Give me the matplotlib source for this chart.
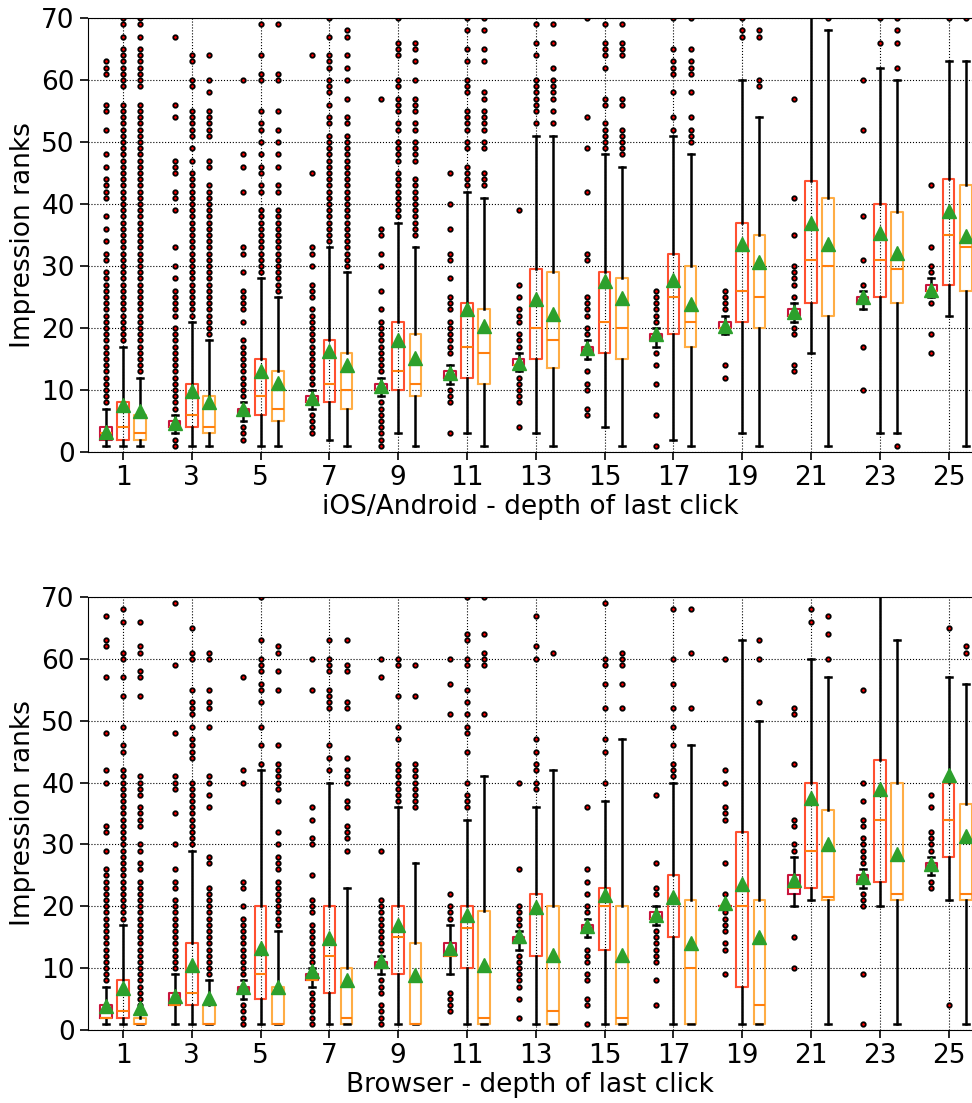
import numpy as np
import matplotlib
matplotlib.use("Agg")
import matplotlib.pyplot as plt

# groups = depth of last click (odd depths only)
depths = [1, 3, 5, 7, 9, 11, 13, 15, 17, 19, 21, 23, 25]

# rows: (whislo, q1, med, q3, whishi, mean)
# fliers: ints, (a, b) = every rank from a to b
top_a_stats = [(1, 2, 3, 4, 7, 3.3), (3, 4, 4, 5, 6, 4.7), (5, 6, 6, 7, 8, 7.0),
               (7, 8, 8, 9, 10, 8.7), (9, 10, 10, 11, 12, 10.6), (11, 12, 12, 13, 14, 12.8),
               (13, 14, 14, 15, 16, 14.4), (15, 16, 16, 17, 18, 16.8), (17, 18, 18, 19, 20, 19.0),
               (19, 20, 20, 21, 22, 20.3), (21, 22, 22, 23, 24, 22.5), (23, 24, 24, 25, 26, 25.0),
               (25, 26, 26, 27, 28, 26.2)]
top_a_fliers = [[(8, 29), 31, 32, 34, 36, 38, 41, 42, 43, 44, 46, 48, 52, 55, 56, 61, 62, 63],
                [1, 2, (7, 20), (22, 26), 28, 30, 33, 39, 41, 42, 45, 46, 47, 54, 56, 67],
                [2, 3, 4, (9, 18), 21, 23, 24, 25, 26, 29, 32, 33, 42, 46, 48, 60],
                [3, 4, 5, 6, (11, 23), 25, 26, 27, 30, 32, 33, 45, 64],
                [(1, 8), (13, 21), 23, 26, 30, 32, 35, 36, 57],
                [3, 8, 9, 10, (16, 21), 23, 24, 25, 28, 31, 32, 36, 40, 45],
                [4, 8, 9, 10, 11, 12, 17, 18, 19, 21, 22, 23, 25, 27, 39],
                [6, 7, 10, 11, 13, 19, 20, 22, 23, 24, 25, 31, 32, 42, 49, 54, 70],
                [1, 6, 11, 14, 16, (21, 26)],
                [12, 14, (23, 26)],
                [13, 14, 19, 20, 25, 27, 28, 29, 30, 35, 41, 57],
                [10, 17, 27, 31, 38, 52, 60],
                [16, 19, 24, 29, 30, 33, 43]]

top_b_stats = [(1, 2, 4, 8, 17, 7.6), (1, 4, 6, 11, 21, 9.8), (1, 6, 9, 15, 28, 13.1),
               (2, 8, 11, 18, 33, 16.3), (3, 10, 13, 21, 37, 18.0), (3, 12, 17, 24, 42, 23.0),
               (3, 15, 20, 29.5, 51, 24.6), (4, 16, 21, 29, 48, 27.5), (2, 19, 25, 32, 51, 27.8),
               (3, 21, 26, 37, 60, 33.5), (16, 24, 31, 43.7, 72, 37.0), (3, 25, 31, 40, 62, 35.4),
               (22, 27, 35, 44, 63, 38.8)]
top_b_fliers = [[(18, 56), (59, 65), 67, 69, 70],
                [(22, 45), 47, 49, (51, 55), 59, 60, 63, 64],
                [(29, 39), 42, 43, 45, 46, 48, 50, 52, 53, 55, 60, 61, 64, 69],
                [(34, 51), 53, 54, 56, 58, 59, 60, 62, 63, 64, 67, 70],
                [(38, 45), 47, 48, 49, 50, 52, 53, 55, 56, 57, 59, 60, 64, 65, 66, 70],
                [43, 44, 45, 46, 49, 50, 52, 53, 54, 55, 58, 59, 60, 63, 65, 68, 70],
                [53, 55, 56, 57, 58, 59, 60, 64, 66, 69],
                [49, 50, 51, 52, 53, 56, 57, 62, 64, 65, 66, 69],
                [52, 54, 58, 61, 62, 63, 65, 70],
                [67, 68, 70],
                [],
                [66, 70],
                [70]]

top_c_stats = [(1, 2, 3, 6, 12, 6.6), (1, 3, 4, 9, 18, 8.0), (1, 5, 7, 13, 25, 11.1),
               (1, 7, 10, 16, 29, 14.1), (1, 9, 11, 19, 33, 15.2), (1, 11, 16, 23, 41, 20.4),
               (1, 13.5, 18, 29, 51, 22.2), (1, 15, 20, 28, 46, 24.9), (1, 17, 21, 30, 48, 23.9),
               (1, 20, 25, 35, 54, 30.7), (1, 22, 30, 41, 68, 33.5), (3, 24, 29.5, 38.7, 60, 32.1),
               (1, 26, 33, 43, 63, 34.8)]
top_c_fliers = [[(13, 56), (59, 65), 67, 69, 70],
                [(19, 43), 46, 47, (51, 55), 58, 60, 64],
                [(26, 39), 42, 43, 46, 48, 50, 52, 55, 60, 61, 69],
                [(30, 51), 53, 54, 57, 60, 62, 64, 67, 68],
                [(35, 44), (47, 50), 52, 53, 55, 56, 57, 60, 63, 65, 66],
                [43, 44, 45, 49, 50, 52, 53, 54, 55, 57, 58, 63, 65, 68, 70],
                [53, 55, 57, 58, 59, 60, 62, 66, 69],
                [48, 49, 50, 51, 52, 56, 57, 64, 65, 66, 69],
                [50, 51, 52, 54, 58, 61, 62, 63, 65, 70],
                [59, 60, 67, 68],
                [70],
                [1, 62, 66, 68, 70],
                [70]]

bot_a_stats = [(1, 2, 2, 4, 7, 3.8), (1, 4, 4, 6, 9, 5.5), (5, 6, 6, 7, 8, 7.0),
               (7, 8, 8, 9, 10, 9.5), (9, 10, 10, 11, 12, 11.2), (9, 12, 12, 14, 17, 13.3),
               (13, 14, 14, 15, 16, 15.2), (15, 16, 16, 17, 18, 16.8), (17, 18, 18, 19, 20, 18.6),
               (20, 20, 20, 20, 20, 20.5), (20, 22, 23, 25, 28, 24.3), (23, 24, 24, 25, 26, 24.8),
               (25, 26, 26, 27, 28, 26.8)]
bot_a_fliers = [[(8, 26), 29, 32, 33, 40, 42, 48, 57, 62, 63, 67],
                [(10, 21), 23, 24, 26, 30, 35, 39, 40, 41, 48, 59, 69],
                [1, 2, 3, 4, (9, 18), 20, 23, 24, 40, 42, 57],
                [(1, 6), (11, 17), 19, 20, 21, 25, 30, 31, 34, 36, 55, 60],
                [1, 2, 3, 4, 6, 7, 8, (13, 21), 29, 57, 60],
                [3, 4, 5, 6, 18, 19, 20, 22, 51, 56, 60],
                [2, 5, (7, 12), 17, 18, 19, 20, 26, 40],
                [1, 4, 5, 8, 9, 11, 12, 13, 19, 20, 22, 24, 26, 36],
                [4, 8, (11, 16), 22, 23, 27, 38],
                [9, 13, 14, 16, 17, 18, 19, 22, 27, 34, 35, 36, 40, 42, 60],
                [10, 15, 29, 30, 33, 34, 43, 51, 52],
                [1, 9, 20, 21, 22, 27, 28, 29, 30, 31, 33, 34, 37, 40, 55],
                [23, 24, 29, 30, 31, 32, 36, 38]]

bot_b_stats = [(1, 2, 3, 8, 17, 6.8), (1, 4, 6, 14, 29, 10.5), (1, 5, 9, 20, 42, 13.2),
               (1, 6, 12, 20, 40, 14.9), (1, 9, 15, 20, 36, 17.0), (1, 10, 16.5, 20, 34, 18.6),
               (1, 12, 19, 22, 36, 19.8), (1, 13, 20, 23, 37, 21.9), (1, 15, 20.5, 25, 40, 21.5),
               (1, 7, 20, 32, 63, 23.6), (21, 23, 29, 40, 60, 37.5), (20, 24, 34, 43.6, 72, 39.0),
               (21, 28, 34, 40, 57, 41.2)]
bot_b_fliers = [[(18, 42), 45, 46, 49, 54, 57, 60, 61, 66, 68],
                [(30, 40), 44, 45, 46, 47, 49, 51, 52, 53, 55, 60, 61, 65],
                [43, 46, 49, 53, 55, 56, 58, 59, 60, 63, 70],
                [42, 44, 46, 52, 53, 54, 55, 58, 59, 60, 63],
                [(37, 43), 47, 49, 54, 59, 60],
                [36, 37, 38, 40, 45, 48, 49, 51, 53, 55, 59, 60, 63, 64, 70],
                [39, 40, 42, 43, 45, 47, 60, 62, 67],
                [40, 45, 47, 52, 56, 59, 60, 69],
                [41, 42, 43, 46, 49, 52, 56, 60, 68],
                [],
                [66, 68],
                [],
                [4, 65]]

bot_c_stats = [(1, 1, 1, 2, 3, 3.6), (1, 1, 1, 4, 8, 5.2), (1, 1, 1, 7, 16, 6.9),
               (1, 1, 2, 10, 23, 8.1), (1, 1, 1, 14, 27, 8.9), (1, 1, 2, 19.3, 41, 10.5),
               (1, 1, 3, 20, 42, 12.2), (1, 1, 2, 20, 47, 12.2), (1, 1, 10, 21, 46, 14.0),
               (1, 1, 4, 21, 50, 15.1), (1, 21, 21.5, 35.6, 57, 30.0), (1, 21, 22, 40, 63, 28.4),
               (1, 21, 22, 36.5, 56, 31.4)]
bot_c_fliers = [[(4, 24), 26, 27, 29, 30, (33, 36), (38, 41), 54, 57, 58, 61, 62, 66],
                [(9, 23), 27, 28, 36, 38, 40, 41, 49, 52, 53, 55, 60, 61],
                [(17, 24), 26, 27, 28, 30, 32, 37, (39, 43), 46, 55, 58, 61, 62],
                [29, 31, 32, 33, 36, 37, 40, 41, 42, 44, 52, 53, 58, 59, 63],
                [(36, 43), 54, 59],
                [51, 59, 60, 61, 64, 70],
                [61],
                [52, 56, 59, 60, 61],
                [52, 61, 68],
                [53, 60, 63],
                [60, 64, 67],
                [],
                [61, 62]]


def expand(fl):
    out = []
    for v in fl:
        if isinstance(v, tuple):
            out.extend(range(v[0], v[1] + 1))
        else:
            out.append(v)
    return np.array(out, dtype=float)


def make_stats(rows, fliers):
    res = []
    for (lo, q1, med, q3, hi, mean), fl in zip(rows, fliers):
        res.append(dict(whislo=lo, q1=q1, med=med, q3=q3, whishi=hi, mean=mean,
                        fliers=expand(fl)))
    return res


plt.rcParams['font.family'] = ['DejaVu Sans']
fig = plt.figure(figsize=(9.72, 11.03), dpi=100)
ax1 = fig.add_axes([0.0905, 0.5902, 0.9095, 0.3935])
ax2 = fig.add_axes([0.0905, 0.0662, 0.9095, 0.3926])

x = np.arange(len(depths))
off = 0.25
w = 0.17
colors = ['#c8143c', '#ff5030', '#ffad45']

flierprops = dict(marker='o', markerfacecolor='red', markeredgecolor='black',
                  markersize=3.2, markeredgewidth=1.3, linestyle='none')
meanprops = dict(marker='^', markerfacecolor='#2ca02c', markeredgecolor='#2ca02c',
                 markersize=10)
medianprops = dict(color='#ff7f0e', linewidth=1.5)

panels = [(ax1, [(top_a_stats, top_a_fliers), (top_b_stats, top_b_fliers), (top_c_stats, top_c_fliers)],
           'iOS/Android - depth of last click'),
          (ax2, [(bot_a_stats, bot_a_fliers), (bot_b_stats, bot_b_fliers), (bot_c_stats, bot_c_fliers)],
           'Browser - depth of last click')]

for ax, series, xlabel in panels:
    for k, (rows, fl) in enumerate(series):
        ax.bxp(make_stats(rows, fl), positions=x + (k - 1) * off, widths=w,
               showmeans=True, manage_ticks=False,
               boxprops=dict(color=colors[k], linewidth=1.5),
               whiskerprops=dict(color='black', linewidth=1.8),
               capprops=dict(color='black', linewidth=1.8),
               medianprops=medianprops, meanprops=meanprops, flierprops=flierprops)
    ax.set_xlim(-0.51, 12.34)
    ax.set_ylim(0, 70)
    ax.set_xticks(x)
    ax.set_xticklabels([str(d) for d in depths])
    ax.set_yticks(np.arange(0, 71, 10))
    ax.grid(True, color='black', linestyle=':', linewidth=0.8)
    ax.set_axisbelow(True)
    ax.spines['right'].set_visible(False)
    ax.tick_params(labelsize=19, length=6, width=1.2)
    ax.set_xlabel(xlabel, fontsize=19, labelpad=2)
    ax.set_ylabel('Impression ranks', fontsize=19)

fig.savefig('out.png', dpi=100)
